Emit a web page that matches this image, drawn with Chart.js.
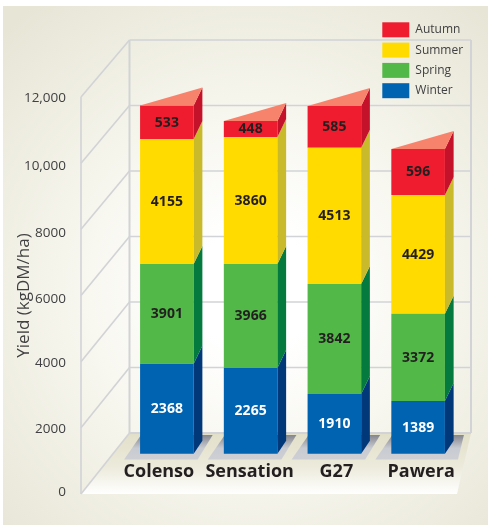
<!DOCTYPE html>
<html>
<head>
<meta charset="utf-8">
<style>
  html, body { margin: 0; padding: 0; background: #fff; }
  canvas { display: block; }
</style>
<script src="https://cdn.jsdelivr.net/npm/chart.js@4/dist/chart.umd.min.js"></script>
</head>
<body>
<canvas id="grafico" width="488" height="525"></canvas>
<script>
const categories = ['Colenso', 'Sensation', 'G27', 'Pawera'];
const yTicks = ['0', '2000', '4000', '6000', '8000', '10,000', '12,000'];

// printed on the bars
const winter = [2368, 2265, 1910, 1389];
const spring = [3901, 3966, 3842, 3372];
const summer = [4155, 3860, 4513, 4429];
const autumn = [533, 448, 585, 596];

// the segments in the picture are not to scale with the printed numbers,
// so these are the heights
const winterHeight = [2720, 2590, 1805, 1593];
const springHeight = [3014, 3144, 3325, 2639];
const summerHeight = [3778, 3839, 4120, 3588];
const autumnHeight = [1013, 484, 1260, 1390];

const labelNudge = [-8, -1, 2, 3];
const tickNudge = [-2, 1, 1, 4, 4, 3, 1];
const shadowRight = [4, 4, 4, 13];

const colores = {
  Winter: { face: '#0063B1', side: '#00387A', text: '#FFFFFF' },
  Spring: { face: '#52B848', side: '#047A3E', text: '#231F20' },
  Summer: { face: '#FFDB00', side: '#C9BA2B', text: '#231F20' },
  Autumn: { face: '#EE1C2E', side: '#C4122A', text: '#231F20' }
};
const topColor = '#F8836D';
const lineColor = '#D1D3D6';

const serie = (name, heights, printed) => ({
  label: name,
  data: heights,
  printed: printed,
  yAxisID: 'yBars',
  backgroundColor: colores[name].face,
  borderWidth: 0,
  categoryPercentage: 1,
  barPercentage: 0.64
});

// room box behind the bars
const room = { left: 81, backLeft: 129.5, backRight: 471, backTop: 40, backBottom: 433, frontRight: 457 };

const poly = (ctx, pts, fill) => {
  ctx.beginPath();
  pts.forEach((p, i) => i ? ctx.lineTo(p[0], p[1]) : ctx.moveTo(p[0], p[1]));
  ctx.closePath();
  ctx.fillStyle = fill;
  ctx.fill();
};

const line = (ctx, x1, y1, x2, y2) => {
  ctx.beginPath();
  ctx.moveTo(x1, y1);
  ctx.lineTo(x2, y2);
  ctx.stroke();
};

const decorado = {
  id: 'decorado',
  afterLayout(chart) {
    // legend sits above the plot area
    const legend = chart.legend;
    legend.left = 377;
    legend.top = 17;
    legend.right = 488;
    legend.bottom = 105;
  },
  beforeDraw(chart) {
    const ctx = chart.ctx;
    const y = chart.scales.y;
    const x = chart.scales.x;
    const front0 = y.getPixelForValue(0);

    ctx.save();
    const fondo = ctx.createRadialGradient(255, 290, 60, 255, 290, 360);
    fondo.addColorStop(0, '#FFFFFF');
    fondo.addColorStop(0.45, '#F6F5EC');
    fondo.addColorStop(1, '#E7E5D6');
    ctx.fillStyle = fondo;
    ctx.fillRect(3, 6, 485, 519);

    // floor
    const suelo = ctx.createLinearGradient(0, room.backBottom, 0, front0);
    suelo.addColorStop(0, '#E2DFC9');
    suelo.addColorStop(0.55, '#ECEADB');
    suelo.addColorStop(1, '#FFFFFF');
    poly(ctx, [[room.left, front0], [room.backLeft, room.backBottom], [room.backRight, room.backBottom], [room.frontRight, front0]], suelo);

    // gridlines on the two walls
    ctx.strokeStyle = lineColor;
    ctx.lineWidth = 1.6;
    const escala = (room.backBottom - room.backTop) / 12000;
    y.ticks.forEach(t => {
      const yFront = y.getPixelForValue(t.value);
      const yBack = room.backBottom - t.value * escala;
      line(ctx, room.left, yFront, room.backLeft, yBack);
      if (t.value > 0) line(ctx, room.backLeft, yBack, room.backRight, yBack);
    });
    line(ctx, room.left, y.getPixelForValue(12000), room.left, front0);
    ctx.lineWidth = 2;
    line(ctx, room.backLeft, room.backTop, room.backLeft, room.backBottom);
    line(ctx, room.backRight, room.backTop, room.backRight, room.backBottom);
    line(ctx, room.backLeft, room.backBottom, room.backRight, room.backBottom);

    // bar shadows on the floor
    const bars = chart.getDatasetMeta(0).data;
    bars.forEach((b, i) => {
      const l = b.x - b.width / 2;
      const r = b.x + b.width / 2;
      const sombra = ctx.createLinearGradient(0, 435, 0, 459);
      sombra.addColorStop(0, '#85868D');
      sombra.addColorStop(0.55, '#C9CBD2');
      sombra.addColorStop(1, '#CDCFD5');
      poly(ctx, [[l - 16, 459.5], [r + shadowRight[i], 459.5], [r + 19, 435], [l + 1, 435]], sombra);
    });
    ctx.restore();

    // labels in the picture are a little off their ticks
    x.getLabelItems().forEach((item, i) => {
      item.options.translation[0] = x.getPixelForTick(i) + labelNudge[i];
    });
    y.getLabelItems().forEach((item, i) => {
      item.options.translation[1] = y.getPixelForTick(i) + tickNudge[i];
    });
  },
  afterDatasetsDraw(chart) {
    const ctx = chart.ctx;
    const dx = 8.7, dy = 18;
    ctx.save();
    chart.data.datasets.forEach((ds, d) => {
      const meta = chart.getDatasetMeta(d);
      meta.data.forEach((b, i) => {
        const r = b.x + b.width / 2;
        const downBy = d === 0 ? 13 : dy;
        poly(ctx, [[r, b.base], [r + dx, b.base - downBy], [r + dx, b.y - dy], [r, b.y]], colores[ds.label].side);
        if (d === chart.data.datasets.length - 1) {
          poly(ctx, [[b.x - b.width / 2, b.y], [r + dx, b.y - dy], [r, b.y]], topColor);
        }
        ctx.font = 'bold 14px "Open Sans"';
        ctx.textAlign = 'center';
        ctx.textBaseline = 'middle';
        ctx.fillStyle = colores[ds.label].text;
        ctx.fillText(String(ds.printed[i]), b.x, (b.y + b.base) / 2 + 0.5);
      });
    });
    ctx.restore();
  }
};

new Chart(document.getElementById('grafico'), {
  type: 'bar',
  data: {
    labels: categories,
    datasets: [
      serie('Winter', winterHeight, winter),
      serie('Spring', springHeight, spring),
      serie('Summer', summerHeight, summer),
      serie('Autumn', autumnHeight, autumn)
    ]
  },
  plugins: [decorado],
  options: {
    responsive: false,
    animation: false,
    layout: { padding: { top: 97, right: 28, left: 0, bottom: 0 } },
    plugins: {
      tooltip: { enabled: false },
      legend: {
        position: 'chartArea',
        align: 'start',
        reverse: true,
        labels: {
          boxWidth: 27,
          boxHeight: 15,
          padding: 5.3,
          color: '#414042',
          font: { family: '"Open Sans"', size: 12 }
        }
      }
    },
    scales: {
      x: {
        stacked: true,
        grid: { display: false, drawTicks: false },
        border: { display: false },
        ticks: {
          mirror: true,
          padding: 11,
          maxRotation: 0,
          autoSkip: false,
          color: '#231F20',
          font: { family: '"Open Sans"', size: 18, weight: 'bold' }
        },
        afterFit(scale) { scale.height = 31; }
      },
      y: {
        min: 0,
        max: 12000,
        grid: { display: false },
        border: { display: false },
        ticks: {
          stepSize: 2000,
          padding: 51,
          color: '#414042',
          font: { family: '"Open Sans"', size: 13.5 },
          callback: (v) => yTicks[v / 2000]
        },
        title: {
          display: true,
          text: 'Yield (kgDM/ha)',
          color: '#414042',
          padding: { top: 14, bottom: 0 },
          font: { family: '"Open Sans"', size: 17 }
        },
        // the big tick padding also leaks into the vertical padding
        afterFit(scale) {
          scale.width = 125;
          scale.paddingTop = 0;
          scale.paddingBottom = 0;
        }
      },
      // same pixels per unit as y, but zero sits on the bar feet
      yBars: {
        display: false,
        stacked: true,
        min: -1218,
        max: 10782
      }
    }
  }
});
</script>
</body>
</html>
